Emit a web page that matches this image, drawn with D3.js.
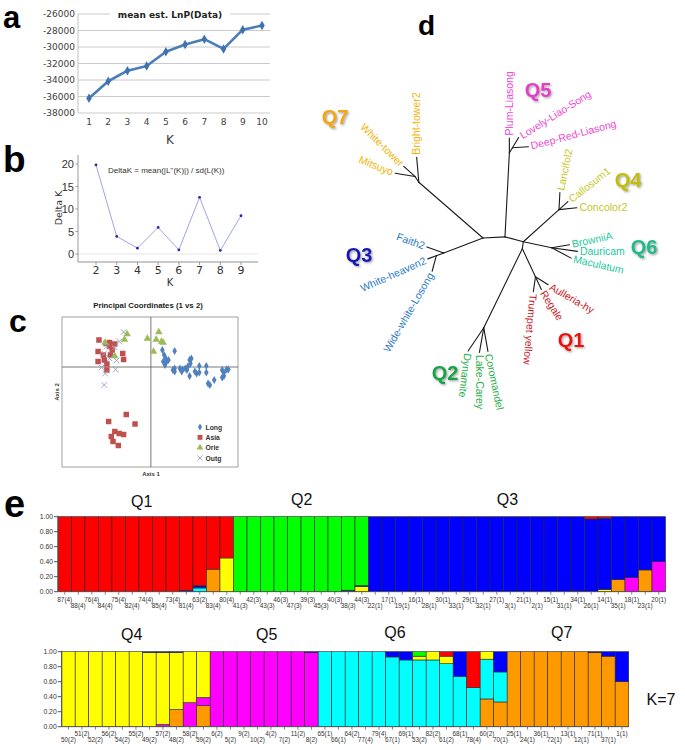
<!DOCTYPE html>
<html><head><meta charset="utf-8">
<script src="https://cdn.jsdelivr.net/npm/d3@7/dist/d3.min.js"></script>
<style>html,body{margin:0;padding:0;background:#fff}svg{display:block}</style>
</head><body>
<svg id="fig" width="685" height="750"></svg>
<script>
// ================= DATA =================
// (a) mean est. LnP(Data)
const kA = [1,2,3,4,5,6,7,8,9,10];
const lnP = [-36200,-34150,-32870,-32300,-30570,-29700,-29050,-30230,-27900,-27400];
const lnPTicks = [-38000,-36000,-34000,-32000,-30000,-28000,-26000];

// (b) Delta K
const kB = [2,3,4,5,6,7,8,9];
const deltaK = [19.8,3.9,1.3,5.9,0.9,12.6,0.8,8.5];
const deltaKTicks = [0,5,10,15,20];

// (c) Principal Coordinates (1 vs 2)
const pcoaGroups = ["Long","Asia","Orie","Outg"];
const longX = [0.13,0.27,0.15,0.17,0.14,0.18,0.16,0.27,0.27,0.33,0.36,0.35,0.39,0.42,0.44,0.46,0.45,0.44,0.50,0.55,0.55,0.63,0.63,0.65,0.67,0.72,0.81,0.83,0.86,0.88,0.81,0.83,0.52,0.41,0.25,0.20];
const longY = [0.34,0.32,0.24,0.17,0.11,0.11,0.04,-0.03,-0.09,-0.03,-0.05,-0.09,-0.03,0.01,0.14,0.17,0.07,-0.18,-0.09,0.02,-0.11,0.02,-0.11,-0.33,-0.36,-0.26,-0.06,-0.11,-0.05,-0.05,-0.21,-0.18,-0.13,-0.06,-0.06,0.14];
const asiaX = [-0.59,-0.51,-0.47,-0.41,-0.47,-0.60,-0.32,-0.54,-0.46,-0.31,-0.60,-0.53,-0.50,-0.50,-0.44,-0.28,-0.48,-0.18,-0.41,-0.36,-0.31,-0.45,-0.43,-0.37];
const asiaY = [0.54,0.47,0.49,0.46,0.41,0.31,0.27,0.24,0.24,0.15,0.11,0.14,0.06,-0.06,0.34,-0.95,-1.09,-1.14,-1.29,-1.33,-1.35,-1.39,-1.49,-1.57];
const orieX = [0.09,-0.27,-0.30,-0.04,0.06,0.12,0.14,0.03,-0.52,-0.41];
const orieY = [0.70,0.66,0.55,0.57,0.55,0.51,0.49,0.31,0.49,0.22];
const outgX = [-0.31,-0.41,-0.39,-0.53,-0.50,-0.47,-0.40,-0.52,-0.53,-0.36,-0.56];
const outgY = [0.70,0.39,0.13,0.27,0.41,0.17,-0.05,-0.13,-0.36,0.51,-0.01];

// (d) unrooted tree: branch length and angle (deg) from parent
const treeIds     = ["A","n7","Bright-tower2","n7b","White-tower","Mitsuyo","n3","Faith2","n3b","White-heaven2","Wide-white-Losong","B","n5","Plum-Liasong","n5b","Lovely-Liao-Song","Deep-Red-Liasong","C","n4","Lancifol2","Callosum1","Concolor2","n6","BrowniiA","Dauricam","Maculatum","D","n1","Trumpet yellow","Regale","Aulleria-hy","n2","Dynamite","Lake-Carey","Coromandel"];
const treeParents = [null,"A","n7","n7","n7b","n7b","A","n3","n3","n3b","n3b","A","B","n5","n5","n5b","n5b","B","C","n4","n4","n4","C","n6","n6","n6","C","D","n1","n1","n1","D","n2","n2","n2"];
const treeLengths = [0,85,25,7,15,20,42,18,8,9,16,22,84,15,6,12,16,19,48,17,12,18,29,18,26,22,7,31,15,14,15,88,28,25,24];
const treeAngles  = [0,-139,-95,-124,-138,-171,159,-160,160,160,105,-3,-87,-90,-59,-59,-4,15,-42,-87,-42,-6,12,-10,8,28,98,65,98,65,32,116,124,100,80];
const treeGroups  = [null,null,"Q7",null,"Q7","Q7",null,"Q3",null,"Q3","Q3",null,null,"Q5",null,"Q5","Q5",null,null,"Q4","Q4","Q4",null,"Q6","Q6","Q6",null,null,"Q1","Q1","Q1",null,"Q2","Q2","Q2"];
const labelAngles = [0,0,-90,0,-135,-158,0,-160,0,156,120,0,0,-90,0,-32,-15,0,0,-78,-38,0,0,-12,0,13,0,0,95,57,30,0,97,90,78];

// (e) STRUCTURE K=7 ; clusters listed bottom -> top of each bar
const clusterNames  = ["orange","magenta","cyan","yellow","blue","red","green"];
const clusterColors = ["#FF9900","#FF00FF","#00FFFF","#FFFF00","#0000FF","#FF0000","#00FF00"];
const topLabels = ["87(4)","88(4)","76(4)","84(4)","75(4)","82(4)","74(4)","85(4)","73(4)","81(4)","63(2)","83(4)","80(4)",
  "41(3)","42(3)","43(3)","46(3)","47(3)","39(3)","45(3)","40(3)","38(3)","44(3)",
  "22(1)","17(1)","19(1)","16(1)","28(1)","30(1)","33(1)","29(1)","32(1)","27(1)","3(1)","21(1)","2(1)","15(1)","31(1)","34(1)","26(1)","14(1)","35(1)","18(1)","23(1)","20(1)"];
const topQ = [
  [0,0,0,0,0,1,0],[0,0,0,0,0,1,0],[0,0,0,0,0,1,0],[0,0,0,0,0,1,0],[0,0,0,0,0,1,0],[0,0,0,0,0,1,0],[0,0,0,0,0,1,0],[0,0,0,0,0,1,0],[0,0,0,0,0,1,0],
  [0,0,0,0,0.02,0.98,0],[0,0,0.05,0.01,0.02,0.92,0],[0.30,0,0,0,0,0.70,0],[0,0,0,0.45,0,0.55,0],
  [0,0,0,0,0,0,1],[0,0,0,0,0,0,1],[0,0,0,0,0,0,1],[0,0,0,0,0,0,1],[0,0,0,0,0,0,1],[0,0,0,0,0,0,1],[0,0,0,0,0,0,1],[0,0,0,0,0,0,1],
  [0,0,0,0,0.02,0,0.98],[0,0,0,0.07,0.01,0,0.92],
  [0,0,0,0,1,0,0],[0,0,0,0,1,0,0],[0,0,0,0,1,0,0],[0,0,0,0,1,0,0],[0,0,0,0,1,0,0],[0,0,0,0,1,0,0],[0,0,0,0,1,0,0],[0,0,0,0,1,0,0],
  [0,0,0,0,1,0,0],[0,0,0,0,1,0,0],[0,0,0,0,1,0,0],[0,0,0,0,1,0,0],[0,0,0,0,1,0,0],[0,0,0,0,1,0,0],[0,0,0,0,1,0,0],
  [0,0.01,0,0,0.99,0,0],[0,0,0,0,0.97,0.03,0],[0,0,0,0.03,0.95,0.02,0],[0.16,0,0,0,0.84,0,0],[0,0.19,0,0,0.81,0,0],[0.29,0,0,0,0.71,0,0],[0,0.40,0,0,0.60,0,0]
];
const botLabels = ["50(2)","51(2)","52(2)","56(2)","54(2)","55(2)","49(2)","57(2)","48(2)","58(2)","59(2)",
  "6(2)","5(2)","9(2)","10(2)","4(2)","7(2)","11(2)","8(2)",
  "65(1)","66(1)","64(2)","77(4)","79(4)","67(1)","69(1)","53(2)","82(2)","61(2)","68(1)","78(4)","60(2)","70(1)",
  "25(1)","24(1)","36(1)","72(1)","13(1)","12(1)","71(1)","37(1)","1(1)"];
const botQ = [
  [0,0,0,1,0,0,0],[0,0,0,1,0,0,0],[0,0,0,1,0,0,0],[0,0,0,1,0,0,0],[0,0,0,1,0,0,0],[0,0,0,1,0,0,0],
  [0,0,0,0.99,0.01,0,0],[0,0.03,0,0.96,0.01,0,0],[0.23,0,0,0.76,0.01,0,0],[0,0.32,0,0.68,0,0,0],[0.28,0.11,0,0.61,0,0,0],
  [0,1,0,0,0,0,0],[0,1,0,0,0,0,0],[0,1,0,0,0,0,0],[0,1,0,0,0,0,0],[0,1,0,0,0,0,0],[0,1,0,0,0,0,0],[0,1,0,0,0,0,0],[0,0.99,0,0,0.01,0,0],
  [0,0,1,0,0,0,0],[0,0,1,0,0,0,0],[0,0,1,0,0,0,0],[0,0,1,0,0,0,0],[0,0,1,0,0,0,0],
  [0,0,0.93,0,0.07,0,0],[0,0,0.89,0,0.11,0,0],[0,0,0.89,0.05,0,0,0.06],[0,0,0.89,0.11,0,0,0],[0,0,0.84,0.10,0,0.06,0],
  [0,0,0.67,0,0.33,0,0],[0,0,0.52,0,0,0.48,0],[0.37,0,0.53,0.10,0,0,0],[0.33,0,0.40,0,0.27,0,0],
  [1,0,0,0,0,0,0],[1,0,0,0,0,0,0],[1,0,0,0,0,0,0],[1,0,0,0,0,0,0],[1,0,0,0,0,0,0],[1,0,0,0,0,0,0],
  [0.99,0,0,0,0.01,0,0],[0.94,0,0,0,0.06,0,0],[0.60,0,0,0,0.40,0,0]
];
const structTicks = [0,0.2,0.4,0.6,0.8,1.0];

// ================= DRAWING =================
const svg = d3.select("#fig");
svg.append("rect").attr("width",685).attr("height",750).attr("fill","#fff");
const defs = svg.append("defs");
const sh = defs.append("filter").attr("id","shadow").attr("x","-20%").attr("y","-20%").attr("width","150%").attr("height","150%");
sh.append("feDropShadow").attr("dx",1.2).attr("dy",1.2).attr("stdDeviation",0.8).attr("flood-color","#777").attr("flood-opacity",0.7);

const SANS = "'Liberation Sans', Arial, sans-serif";
const DEJA = "'DejaVu Sans', Verdana, sans-serif";

function letter(t, x, y, size){
  svg.append("text").attr("x",x).attr("y",y).text(t)
    .attr("font-family",SANS).attr("font-weight","bold").attr("font-size",size).attr("fill","#000");
}
letter("a",3,28.3,31); letter("b",3,172,37); letter("c",9,332,32); letter("d",418,35,28); letter("e",4,517,38);

// ---------- (a) ----------
(function(){
  const g = svg.append("g");
  const x = d3.scaleLinear().domain([1,10]).range([89,262]);
  const y = d3.scaleLinear().domain([-38000,-26000]).range([113,14]);
  g.selectAll("line.grid").data(lnPTicks).join("line")
    .attr("x1",78).attr("x2",270).attr("y1",d=>y(d)).attr("y2",d=>y(d))
    .attr("stroke","#c4c4c4").attr("stroke-width",0.9);
  g.append("line").attr("x1",78).attr("x2",78).attr("y1",y(-26000)).attr("y2",y(-38000)).attr("stroke","#c4c4c4");
  g.selectAll("text.yt").data(lnPTicks).join("text")
    .attr("x",75).attr("y",d=>y(d)+3.3).attr("text-anchor","end").text(d=>d3.format("d")(d).replace("−","-"))
    .attr("font-family",DEJA).attr("font-size",9).attr("fill","#404040");
  g.selectAll("text.xt").data(kA).join("text")
    .attr("x",d=>x(d)).attr("y",125).attr("text-anchor","middle").text(d=>d)
    .attr("font-family",DEJA).attr("font-size",9).attr("fill","#404040");
  g.append("text").attr("x",170).attr("y",144).attr("text-anchor","middle").text("K")
    .attr("font-family",DEJA).attr("font-size",12).attr("fill","#404040");
  const tt = g.append("text").attr("x",170).attr("y",17.5).attr("text-anchor","middle").text("mean est. LnP(Data)")
    .attr("font-family",DEJA).attr("font-weight","bold").attr("font-size",9).attr("fill","#222");
  const bb = tt.node().getBBox();
  g.insert("rect","text").attr("x",bb.x-8).attr("y",bb.y).attr("width",bb.width+16).attr("height",bb.height).attr("fill","#fff");
  tt.raise();
  const line = d3.line().x((d,i)=>x(kA[i])).y(d=>y(d));
  g.append("path").datum(lnP).attr("d",line).attr("fill","none").attr("stroke","#4A7EBB").attr("stroke-width",2.6).attr("stroke-linejoin","round");
  g.selectAll("path.mk").data(lnP).join("path")
    .attr("d",d3.symbol(d3.symbolDiamond,26)).attr("transform",(d,i)=>`translate(${x(kA[i])},${y(d)})`)
    .attr("fill","#3F72AF");
})();

// ---------- (b) ----------
(function(){
  const g = svg.append("g");
  const x = d3.scaleLinear().domain([2,9]).range([96,241]);
  const y = d3.scaleLinear().domain([0,20]).range([254,164]);
  g.append("line").attr("x1",78).attr("x2",258).attr("y1",y(0)).attr("y2",y(0)).attr("stroke","#dedede").attr("stroke-width",0.8);
  g.append("line").attr("x1",78).attr("x2",258).attr("y1",262).attr("y2",262).attr("stroke","#c8c8c8").attr("stroke-width",2);
  g.append("line").attr("x1",78).attr("x2",78).attr("y1",155).attr("y2",262).attr("stroke","#9a9a9a").attr("stroke-width",1);
  g.selectAll("line.yt").data(deltaKTicks).join("line").attr("x1",75.5).attr("x2",78).attr("y1",d=>y(d)).attr("y2",d=>y(d)).attr("stroke","#9a9a9a");
  g.selectAll("line.xt").data(kB).join("line").attr("x1",d=>x(d)).attr("x2",d=>x(d)).attr("y1",262).attr("y2",265).attr("stroke","#9a9a9a");
  g.selectAll("text.yt").data(deltaKTicks).join("text")
    .attr("x",74).attr("y",d=>y(d)+4).attr("text-anchor","end").text(d=>d)
    .attr("font-family",SANS).attr("font-size",11).attr("fill","#333");
  g.selectAll("text.xt").data(kB).join("text")
    .attr("x",d=>x(d)).attr("y",274).attr("text-anchor","middle").text(d=>d)
    .attr("font-family",DEJA).attr("font-size",11).attr("fill","#333");
  g.append("text").attr("x",170).attr("y",286).attr("text-anchor","middle").text("K")
    .attr("font-family",DEJA).attr("font-size",10).attr("fill","#333");
  g.append("text").attr("transform","translate(61.5,208) rotate(-90)").attr("text-anchor","middle").text("Delta K")
    .attr("font-family",DEJA).attr("font-size",9.5).attr("fill","#333");
  g.append("text").attr("x",108).attr("y",173).text("DeltaK = mean(|L''(K)|) / sd(L(K))")
    .attr("font-family",SANS).attr("font-size",8).attr("fill","#333");
  g.append("path").datum(deltaK).attr("d",d3.line().x((d,i)=>x(kB[i])).y(d=>y(d)))
    .attr("fill","none").attr("stroke","#a3a3e6").attr("stroke-width",1);
  g.selectAll("circle").data(deltaK).join("circle").attr("cx",(d,i)=>x(kB[i])).attr("cy",d=>y(d)).attr("r",1.4).attr("fill","#2a2ab0");
})();

// ---------- (c) ----------
(function(){
  const g = svg.append("g");
  const x = d3.scaleLinear().domain([-1.01,0.99]).range([62,238]);
  const y = d3.scaleLinear().domain([-2,1]).range([467,317]);
  g.append("text").attr("x",148).attr("y",308).attr("text-anchor","middle").text("Principal Coordinates (1 vs 2)")
    .attr("font-family",SANS).attr("font-weight","bold").attr("font-size",7.8).attr("fill","#222");
  g.append("rect").attr("x",62).attr("y",317).attr("width",176).attr("height",150).attr("fill","none").attr("stroke","#8a8a8a").attr("stroke-width",0.8);
  g.append("line").attr("x1",x(0)).attr("x2",x(0)).attr("y1",317).attr("y2",467).attr("stroke","#555").attr("stroke-width",0.8);
  g.append("line").attr("x1",62).attr("x2",238).attr("y1",y(0)).attr("y2",y(0)).attr("stroke","#555").attr("stroke-width",0.8);
  g.append("text").attr("transform","translate(59,392) rotate(-90)").attr("text-anchor","middle").text("Axis 2")
    .attr("font-family",SANS).attr("font-weight","bold").attr("font-size",6).attr("fill","#333");
  g.append("text").attr("x",151).attr("y",476).attr("text-anchor","middle").text("Axis 1")
    .attr("font-family",SANS).attr("font-weight","bold").attr("font-size",6).attr("fill","#333");
  const sets = [
    {xs:longX, ys:longY, sym:d3.symbolDiamond, size:18, fill:"#4F81BD", stroke:"none"},
    {xs:asiaX, ys:asiaY, sym:d3.symbolSquare, size:30, fill:"#C0504D", stroke:"none"},
    {xs:orieX, ys:orieY, sym:d3.symbolTriangle, size:24, fill:"#9BBB59", stroke:"none"},
    {xs:outgX, ys:outgY, sym:d3.symbolX, size:22, fill:"none", stroke:"#9b9bc0"}
  ];
  sets.forEach(s=>{
    g.selectAll(null).data(s.xs).join("path")
      .attr("d",d3.symbol(s.sym,s.size)).attr("transform",(d,i)=>`translate(${x(d)},${y(s.ys[i])})`)
      .attr("fill",s.fill).attr("stroke",s.stroke).attr("stroke-width",0.9);
  });
  const ly = d3.scalePoint().domain(pcoaGroups).range([427,458]);
  g.selectAll("path.lg").data(pcoaGroups).join("path")
    .attr("d",(d,i)=>d3.symbol(sets[i].sym, sets[i].size*0.8)())
    .attr("transform",d=>`translate(200,${ly(d)})`)
    .attr("fill",(d,i)=>sets[i].fill).attr("stroke",(d,i)=>sets[i].stroke).attr("stroke-width",0.9);
  g.selectAll("text.lg").data(pcoaGroups).join("text")
    .attr("x",205.5).attr("y",d=>ly(d)+2.5).text(d=>d)
    .attr("font-family",SANS).attr("font-weight","bold").attr("font-size",6.8).attr("fill","#333");
})();

// ---------- (d) tree ----------
(function(){
  const g = svg.append("g");
  const tx = d3.scaleLinear().domain([0,1]).range([483,484]);
  const ty = d3.scaleLinear().domain([0,1]).range([238,239]);
  const nodes = treeIds.map((id,i)=>({id, parent:treeParents[i], len:treeLengths[i], ang:treeAngles[i], grp:treeGroups[i], la:labelAngles[i]}));
  const byId = new Map(nodes.map(n=>[n.id,n]));
  nodes.forEach(n=>{
    if(!n.parent){ n.x=0; n.y=0; return; }
    const p = byId.get(n.parent), a = n.ang*Math.PI/180;
    n.x = p.x + n.len*Math.cos(a); n.y = p.y + n.len*Math.sin(a);
  });
  const edges = nodes.filter(n=>n.parent).map(n=>[byId.get(n.parent), n]);
  g.selectAll("line").data(edges).join("line")
    .attr("x1",d=>tx(d[0].x)).attr("y1",d=>ty(d[0].y)).attr("x2",d=>tx(d[1].x)).attr("y2",d=>ty(d[1].y))
    .attr("stroke","#1a1a1a").attr("stroke-width",1.1).attr("stroke-linecap","round");
  const leafCol = {Q1:"#C8202A",Q2:"#1FAF4A",Q3:"#2A7AC8",Q4:"#C6C61E",Q5:"#EC48D2",Q6:"#22C8A0",Q7:"#F2B40A"};
  const leaves = nodes.filter(n=>n.grp);
  g.selectAll("text.leaf").data(leaves).join("text")
    .each(function(d){
      const a = d.la*Math.PI/180, off = 2.5;
      const px = tx(d.x + off*Math.cos(a)), py = ty(d.y + off*Math.sin(a));
      const flip = Math.cos(a) < -0.15;
      d3.select(this).attr("transform",`translate(${px},${py}) rotate(${flip ? d.la+180 : d.la})`)
        .attr("text-anchor", flip ? "end" : "start");
    })
    .attr("dy","0.35em").text(d=>d.id)
    .attr("font-family",SANS).attr("font-size",10.5).attr("fill",d=>leafCol[d.grp]);
  const qLab = [["Q7",335,117,"#F2A80C"],["Q5",538,90,"#E43CC8"],["Q4",628,180,"#C4BE00"],["Q3",359,255,"#1414B4"],
                ["Q6",644,247,"#1CBB8E"],["Q1",571,340,"#F01010"],["Q2",445,373,"#12A448"]];
  g.selectAll("text.q").data(qLab).join("text")
    .attr("x",d=>d[1]).attr("y",d=>d[2]).attr("dy","0.36em").attr("text-anchor","middle").text(d=>d[0])
    .attr("font-family",SANS).attr("font-weight","bold").attr("font-size",20).attr("fill",d=>d[3])
    .attr("filter","url(#shadow)");
})();

// ---------- (e) structure plots ----------
function structure(labels, Q, x0, yTop, yBot, upperOdd, rowY){
  const g = svg.append("g");
  const n = labels.length;
  const x = d3.scaleBand().domain(d3.range(n)).range([x0, x0+n*13.5]).padding(0);
  const y = d3.scaleLinear().domain([0,1]).range([yBot,yTop]);
  Q.forEach((q,i)=>{
    let cum = 0;
    q.forEach((v,k)=>{
      if(v<=0) return;
      g.append("rect").attr("x",x(i)).attr("width",x.bandwidth())
        .attr("y",y(cum+v)).attr("height",y(cum)-y(cum+v))
        .attr("fill",clusterColors[k]).attr("stroke","#2a2a2a").attr("stroke-width",0.6);
      cum += v;
    });
  });
  g.append("line").attr("x1",x0).attr("x2",x0).attr("y1",yTop-1).attr("y2",yBot).attr("stroke","#555").attr("stroke-width",1.2);
  g.append("line").attr("x1",x0).attr("x2",x0+n*13.5).attr("y1",yBot).attr("y2",yBot).attr("stroke","#555").attr("stroke-width",0.8);
  g.selectAll("line.yt").data(structTicks).join("line").attr("x1",x0-4).attr("x2",x0).attr("y1",d=>y(d)).attr("y2",d=>y(d)).attr("stroke","#555");
  g.selectAll("text.yt").data(structTicks).join("text")
    .attr("x",x0-5).attr("y",d=>y(d)+2.3).attr("text-anchor","end").text(d=>d3.format(".2f")(d))
    .attr("font-family",SANS).attr("font-size",6.8).attr("fill","#333");
  g.selectAll("line.xt").data(labels).join("line")
    .attr("x1",(d,i)=>x(i)+x.bandwidth()/2).attr("x2",(d,i)=>x(i)+x.bandwidth()/2).attr("y1",yBot).attr("y2",yBot+3).attr("stroke","#555").attr("stroke-width",0.7);
  g.selectAll("text.xl").data(labels).join("text")
    .attr("x",(d,i)=>x(i)+x.bandwidth()/2).attr("y",(d,i)=>((i%2===1)===upperOdd) ? rowY[0] : rowY[1])
    .attr("text-anchor","middle").text(d=>d)
    .attr("font-family","'Liberation Sans Narrow','Liberation Sans',Arial,sans-serif").attr("font-size",6.4).attr("fill","#333");
  return x;
}
structure(topLabels, topQ, 58, 516.7, 591.7, false, [601.5,607.5]);
structure(botLabels, botQ, 61.7, 651.7, 726.7, true, [736,742]);

const eTitles = [["Q1",141.7,501.5],["Q2",301.7,499],["Q3",507.5,499],["Q4",131.7,634],["Q5",266.7,634],["Q6",395,632.5],["Q7",561.7,632.5],["K=7",661,699]];
svg.selectAll("text.et").data(eTitles).join("text")
  .attr("x",d=>d[1]).attr("y",d=>d[2]).attr("dy","0.36em").attr("text-anchor","middle").text(d=>d[0])
  .attr("font-family",SANS).attr("font-size",16).attr("fill","#111");
</script>
</body></html>
